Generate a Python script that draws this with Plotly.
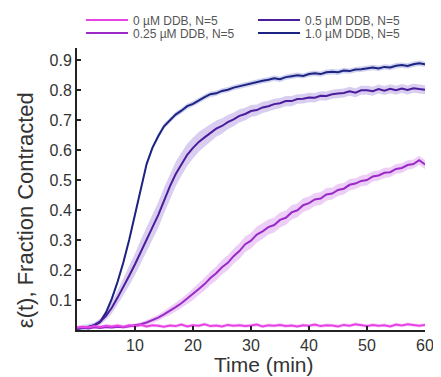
import numpy as np
import plotly.graph_objects as go

time_min = list(range(61))

labels = ["0 \u00b5M DDB, N=5", "0.25 \u00b5M DDB, N=5", "0.5 \u00b5M DDB, N=5", "1.0 \u00b5M DDB, N=5"]

ddb_00 = [0.008, 0.011, 0.009, 0.013, 0.010, 0.014, 0.012, 0.015, 0.011, 0.016,
          0.013, 0.017, 0.012, 0.016, 0.014, 0.011, 0.015, 0.013, 0.018, 0.012,
          0.016, 0.014, 0.019, 0.013, 0.015, 0.012, 0.017, 0.014, 0.016, 0.013,
          0.015, 0.018, 0.012, 0.016, 0.014, 0.017, 0.013, 0.015, 0.012, 0.016,
          0.014, 0.018, 0.013, 0.016, 0.015, 0.012, 0.017, 0.014, 0.019, 0.015,
          0.013, 0.017, 0.014, 0.016, 0.012, 0.018, 0.015, 0.019, 0.016, 0.014,
          0.017]

ddb_025 = [0.006, 0.008, 0.005, 0.009, 0.007, 0.010, 0.008, 0.011, 0.009, 0.012,
           0.014, 0.019, 0.025, 0.032, 0.041, 0.052, 0.063, 0.076, 0.089, 0.104,
           0.119, 0.137, 0.153, 0.173, 0.189, 0.209, 0.224, 0.246, 0.263, 0.286,
           0.298, 0.318, 0.329, 0.343, 0.350, 0.367, 0.374, 0.392, 0.399, 0.416,
           0.423, 0.435, 0.438, 0.452, 0.455, 0.467, 0.471, 0.484, 0.488, 0.497,
           0.500, 0.512, 0.515, 0.524, 0.526, 0.537, 0.540, 0.550, 0.553, 0.566,
           0.552]

ddb_05 = [0.004, 0.006, 0.009, 0.016, 0.028, 0.047, 0.074, 0.108, 0.143, 0.181,
          0.219, 0.262, 0.301, 0.342, 0.383, 0.431, 0.478, 0.519, 0.553, 0.584,
          0.607, 0.627, 0.642, 0.657, 0.671, 0.680, 0.693, 0.702, 0.714, 0.720,
          0.730, 0.733, 0.742, 0.746, 0.753, 0.756, 0.763, 0.763, 0.770, 0.771,
          0.775, 0.774, 0.781, 0.780, 0.786, 0.788, 0.790, 0.796, 0.791, 0.799,
          0.799, 0.796, 0.803, 0.798, 0.804, 0.799, 0.805, 0.800, 0.806, 0.803,
          0.801]

ddb_10 = [0.004, 0.007, 0.011, 0.016, 0.027, 0.058, 0.104, 0.161, 0.226, 0.301,
          0.388, 0.474, 0.553, 0.607, 0.646, 0.679, 0.699, 0.718, 0.731, 0.746,
          0.754, 0.766, 0.776, 0.786, 0.789, 0.797, 0.801, 0.808, 0.813, 0.817,
          0.823, 0.826, 0.831, 0.834, 0.839, 0.836, 0.843, 0.846, 0.849, 0.847,
          0.853, 0.856, 0.853, 0.859, 0.861, 0.859, 0.865, 0.863, 0.868, 0.869,
          0.872, 0.875, 0.872, 0.877, 0.875, 0.881, 0.883, 0.880, 0.886, 0.889,
          0.886]

sem_00 = 0.006
sem_10 = 0.009

sem_025 = [0.004, 0.004, 0.004, 0.004, 0.004, 0.005, 0.005, 0.005, 0.005, 0.006,
           0.006, 0.007, 0.008, 0.009, 0.010, 0.011, 0.013, 0.014, 0.016, 0.017,
           0.019, 0.020, 0.021, 0.022, 0.023, 0.024, 0.025, 0.025, 0.026, 0.026,
           0.026, 0.026, 0.026, 0.025, 0.025, 0.025, 0.024, 0.024, 0.023, 0.023,
           0.022, 0.022, 0.021, 0.021, 0.020, 0.020, 0.019, 0.019, 0.018, 0.018,
           0.018, 0.017, 0.017, 0.017, 0.016, 0.016, 0.016, 0.016, 0.015, 0.015,
           0.015]

sem_05 = [0.003, 0.004, 0.005, 0.007, 0.010, 0.014, 0.019, 0.024, 0.029, 0.033,
          0.036, 0.039, 0.041, 0.042, 0.043, 0.043, 0.042, 0.041, 0.039, 0.037,
          0.035, 0.033, 0.031, 0.029, 0.027, 0.026, 0.024, 0.023, 0.022, 0.021,
          0.020, 0.019, 0.019, 0.018, 0.018, 0.017, 0.017, 0.017, 0.016, 0.016,
          0.016, 0.016, 0.015, 0.015, 0.015, 0.015, 0.015, 0.015, 0.015, 0.015,
          0.015, 0.015, 0.015, 0.015, 0.015, 0.015, 0.015, 0.015, 0.015, 0.015,
          0.015]

x_ticks = [10, 20, 30, 40, 50, 60]
y_ticks = [0.1, 0.2, 0.3, 0.4, 0.5, 0.6, 0.7, 0.8, 0.9]

series = [
    (labels[3], ddb_10, sem_10, "#1c2383", "rgba(120,130,210,0.35)", "legend4"),
    (labels[2], ddb_05, sem_05, "#4b1c9c", "rgba(185,165,228,0.55)", "legend3"),
    (labels[1], ddb_025, sem_025, "#9a2ac8", "rgba(222,165,240,0.55)", "legend2"),
    (labels[0], ddb_00, sem_00, "#e642e6", "rgba(245,170,245,0.5)", "legend"),
]

FONT = "Liberation Sans, Arial, sans-serif"
fig = go.Figure()

# error bands
for name, y, s, col, band, lg in series:
    y = np.array(y)
    s = np.array(s) if isinstance(s, list) else s
    fig.add_trace(go.Scatter(x=time_min, y=y + s, mode="lines", line=dict(width=0),
                             showlegend=False, hoverinfo="skip"))
    fig.add_trace(go.Scatter(x=time_min, y=y - s, mode="lines", line=dict(width=0),
                             fill="tonexty", fillcolor=band, showlegend=False, hoverinfo="skip"))

# mean lines
for name, y, s, col, band, lg in series:
    fig.add_trace(go.Scatter(x=time_min, y=y, mode="lines", name=name,
                             line=dict(color=col, width=2), legend=lg))

def leg(x, y):
    return dict(x=x, y=y, xref="container", yref="container",
                xanchor="left", yanchor="middle", bgcolor="rgba(0,0,0,0)",
                font=dict(family=FONT, size=12, color="#555"), itemwidth=42,
                borderwidth=0, tracegroupgap=0)

fig.update_layout(
    width=433, height=369,
    margin=dict(l=69, r=16, t=40, b=47, autoexpand=False),
    paper_bgcolor="white", plot_bgcolor="white",
    font=dict(family=FONT, color="#333"),
    legend=leg(0.1686, 0.9675),
    legend2=leg(0.1686, 0.9322),
    legend3=leg(0.5658, 0.9675),
    legend4=leg(0.5658, 0.9322),
    xaxis=dict(range=[0, 60], tickvals=x_ticks, ticks="inside", ticklen=4, tickwidth=1.5,
               tickcolor="#222", showline=True, linewidth=2, linecolor="#222",
               showgrid=False, zeroline=False, tickfont=dict(size=16, color="#333")),
    yaxis=dict(range=[0, 0.94], tickvals=y_ticks, ticks="inside", ticklen=4, tickwidth=1.5,
               tickcolor="#222", showline=True, linewidth=2, linecolor="#222",
               showgrid=False, zeroline=False, tickfont=dict(size=16, color="#333")),
    annotations=[
        dict(text="Time (min)", xref="paper", yref="paper", x=0.537, y=-0.124,
             xanchor="center", yanchor="middle", showarrow=False,
             font=dict(family=FONT, size=21, color="#333")),
        dict(text="\u03b5(t), Fraction Contracted", xref="paper", yref="paper",
             x=-0.149, y=0.4255, xanchor="center", yanchor="middle", textangle=-90,
             showarrow=False, font=dict(family=FONT, size=22, color="#333")),
    ],
)

fig.write_html("out.html")
